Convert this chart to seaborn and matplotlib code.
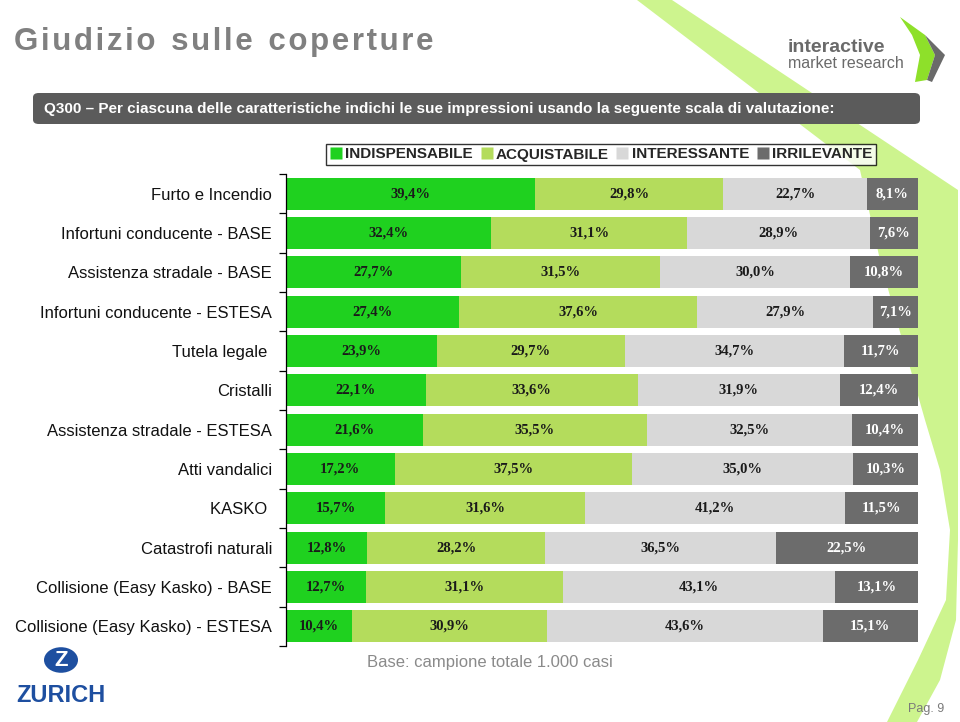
import numpy as np
import pandas as pd
import matplotlib.pyplot as plt
import seaborn as sns
from matplotlib.patches import Polygon, FancyBboxPatch, Circle
from matplotlib.lines import Line2D

categories = [
    "Furto e Incendio",
    "Infortuni conducente - BASE",
    "Assistenza stradale - BASE",
    "Infortuni conducente - ESTESA",
    "Tutela legale ",
    "Cristalli",
    "Assistenza stradale - ESTESA",
    "Atti vandalici",
    "KASKO ",
    "Catastrofi naturali",
    "Collisione (Easy Kasko) - BASE",
    "Collisione (Easy Kasko) - ESTESA",
]
indispensabile = [39.4, 32.4, 27.7, 27.4, 23.9, 22.1, 21.6, 17.2, 15.7, 12.8, 12.7, 10.4]
acquistabile = [29.8, 31.1, 31.5, 37.6, 29.7, 33.6, 35.5, 37.5, 31.6, 28.2, 31.1, 30.9]
interessante = [22.7, 28.9, 30.0, 27.9, 34.7, 31.9, 32.5, 35.0, 41.2, 36.5, 43.1, 43.6]
irrilevante = [8.1, 7.6, 10.8, 7.1, 11.7, 12.4, 10.4, 10.3, 11.5, 22.5, 13.1, 15.1]

series = ["INDISPENSABILE", "ACQUISTABILE", "INTERESSANTE", "IRRILEVANTE"]
colors = ["#1fd11f", "#b4dc5c", "#d8d8d8", "#6c6c6c"]
text_colors = ["#1a1a1a", "#1a1a1a", "#1a1a1a", "white"]

df = pd.DataFrame({
    "cat": categories,
    series[0]: indispensabile,
    series[1]: acquistabile,
    series[2]: interessante,
    series[3]: irrilevante,
})
cum = df[series].cumsum(axis=1)

sns.set_style("white")
plt.rcParams["font.family"] = ["Liberation Sans", "DejaVu Sans"]

fig = plt.figure(figsize=(9.6, 7.22), dpi=100)
W, H = 960, 722


def fx(x):
    return x / W


def fy(y):
    return 1 - y / H


# decorative light green band (behind everything)
band = [(637, 0), (860, 170), (880, 260), (905, 350), (925, 420), (940, 470),
        (950, 530), (946, 600), (918, 660), (887, 722), (917, 722),
        (940, 680), (956, 620), (958, 540), (958, 190), (672, 0)]
fig.patches.append(Polygon([(fx(a), fy(b)) for a, b in band], closed=True,
                           transform=fig.transFigure, facecolor="#cdf48e",
                           edgecolor="none", zorder=-5))

ax = fig.add_axes([fx(286), fy(646), fx(918) - fx(286), fy(174) - fy(646)])
ax.set_zorder(2)
ax.patch.set_alpha(0)

for i in range(len(series) - 1, -1, -1):
    sns.barplot(x=cum[series[i]], y=df["cat"], color=colors[i], width=0.82,
                orient="h", ax=ax, saturation=1, edgecolor="none")

for i, s in enumerate(series):
    for j, v in enumerate(df[s]):
        center = cum[s][j] - v / 2
        ax.text(center, j, f"{v:.1f}%".replace(".", ","), ha="center",
                va="center", fontsize=10.5, color=text_colors[i],
                family="Liberation Serif", weight="bold")

ax.set_xlim(0, 100)
ax.set_ylim(len(categories) - 0.5, -0.5)
ax.set_xlabel("")
ax.set_ylabel("")
ax.set_xticks([])
for side in ["top", "right", "bottom"]:
    ax.spines[side].set_visible(False)
ax.spines["left"].set_color("black")
ax.spines["left"].set_linewidth(0.9)
ax.set_yticks(np.arange(len(categories) + 1) - 0.5, minor=True)
ax.tick_params(axis="y", which="minor", length=5, width=0.9, color="black",
               left=True, direction="out")
ax.tick_params(axis="y", which="major", length=0, pad=10, labelsize=12,
               labelcolor="#111111")

# legend
handles = [Line2D([], [], marker="s", linestyle="none", markersize=8,
                  markerfacecolor=c, markeredgecolor="none") for c in colors]
leg = fig.legend(handles, series, loc="center", ncol=4,
                 bbox_to_anchor=(fx(601), fy(154.5)), frameon=True,
                 prop={"size": 11, "weight": "bold"}, handletextpad=0.2,
                 columnspacing=0.5, borderpad=0.25, handlelength=0.8,
                 fancybox=False)
leg.get_frame().set_edgecolor("black")
leg.get_frame().set_linewidth(1.0)

# title and header
fig.text(fx(14), fy(42), "G i u d i z i o   s u l l e   c o p e r t u r e".replace("   ", "\u2002").replace(" ", "\u200a"),
         fontsize=22.5, color="#808080", weight="bold", va="center", ha="left")
fig.patches.append(FancyBboxPatch((fx(33), fy(124)), fx(920) - fx(33),
                                  fy(93) - fy(124),
                                  boxstyle="round,pad=0,rounding_size=0.006",
                                  transform=fig.transFigure,
                                  facecolor="#5b5b5b", edgecolor="none",
                                  zorder=1))
fig.text(fx(44), fy(109), "Q300 – Per ciascuna delle caratteristiche indichi le sue impressioni usando la seguente scala di valutazione:",
         fontsize=11, color="white", weight="bold", va="center", ha="left",
         zorder=2)

# interactive market research logo
fig.text(fx(788), fy(47), "interactive", fontsize=14, weight="bold",
         color="#6a6a6a", va="center", ha="left")
fig.text(fx(788), fy(63), "market research", fontsize=11.5,
         color="#6a6a6a", va="center", ha="left")
chev_g = [(900, 17), (925, 35), (935, 55), (927, 80), (915, 82), (920, 55), (912, 35)]
chev_k = [(925, 35), (945, 55), (932, 82), (927, 80), (935, 55)]
fig.patches.append(Polygon([(fx(a), fy(b)) for a, b in chev_g], closed=True,
                           transform=fig.transFigure, facecolor="#8ee02a",
                           edgecolor="none"))
fig.patches.append(Polygon([(fx(a), fy(b)) for a, b in chev_k], closed=True,
                           transform=fig.transFigure, facecolor="#6a6a6a",
                           edgecolor="none"))

# zurich logo
fig.patches.append(Circle((fx(61), fy(660)), 17 / W, transform=fig.transFigure,
                          facecolor="#1e4fa0", edgecolor="none"))
fig.text(fx(61), fy(660), "Z", fontsize=16, weight="bold", color="white",
         ha="center", va="center")
fig.text(fx(61), fy(695), "ZURICH", fontsize=17, weight="bold",
         color="#1e4fa0", ha="center", va="center")

fig.text(fx(367), fy(662), "Base: campione totale 1.000 casi", fontsize=12,
         color="#8a8a8a", ha="left", va="center")
fig.text(fx(908), fy(709), "Pag. 9", fontsize=9, color="#7a7a7a",
         ha="left", va="center")

fig.savefig("out.png", dpi=100)
